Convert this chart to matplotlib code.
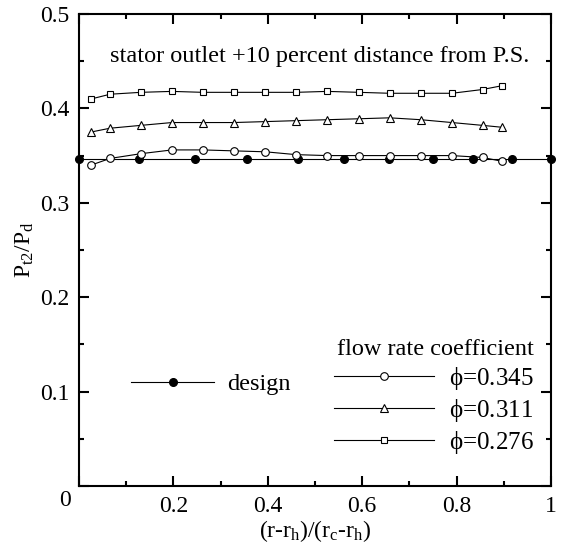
import matplotlib
matplotlib.use("Agg")
import matplotlib.pyplot as plt
from matplotlib.lines import Line2D
from matplotlib.ticker import MultipleLocator

plt.rcParams['font.family'] = ['Liberation Serif', 'DejaVu Serif']
plt.rcParams['mathtext.fontset'] = 'custom'
plt.rcParams['mathtext.rm'] = 'Liberation Serif'
plt.rcParams['mathtext.it'] = 'Liberation Serif'

# radial position (r-rh)/(rc-rh)
x_meas = [0.026, 0.066, 0.131, 0.197, 0.262, 0.328, 0.395, 0.460,
          0.526, 0.593, 0.658, 0.724, 0.790, 0.855, 0.896]
phi_345 = [0.340, 0.347, 0.352, 0.356, 0.356, 0.355, 0.354, 0.351,
           0.350, 0.350, 0.350, 0.350, 0.350, 0.348, 0.344]
phi_311 = [0.375, 0.379, 0.382, 0.385, 0.385, 0.385, 0.386, 0.387,
           0.388, 0.389, 0.390, 0.388, 0.385, 0.382, 0.380]
phi_276 = [0.410, 0.415, 0.417, 0.418, 0.417, 0.417, 0.417, 0.417,
           0.418, 0.417, 0.416, 0.416, 0.416, 0.420, 0.424]

x_design = [0.0, 0.127, 0.246, 0.357, 0.463, 0.561, 0.657, 0.749, 0.835, 0.918, 1.0]
design = [0.346] * len(x_design)

labels = [r"$\phi$=0.345", r"$\phi$=0.311", r"$\phi$=0.276"]

fig = plt.figure(figsize=(5.63, 5.46), dpi=100)
ax = fig.add_axes([0.1403, 0.1099, 0.8384, 0.8645])

lw = 0.8
ax.plot(x_design, design, color='black', lw=lw, marker='o', ms=5.5,
        mfc='black', mec='black', clip_on=False, zorder=3)
ax.plot(x_meas, phi_345, color='black', lw=lw, marker='o', ms=5.5,
        mfc='white', mec='black', mew=0.8, zorder=4)
ax.plot(x_meas, phi_311, color='black', lw=lw, marker='^', ms=5.5,
        mfc='white', mec='black', mew=0.8, zorder=4)
ax.plot(x_meas, phi_276, color='black', lw=lw, marker='s', ms=4.5,
        mfc='white', mec='black', mew=0.8, zorder=4)

ax.set_xlim(0, 1)
ax.set_ylim(0, 0.5)
ax.xaxis.set_major_locator(MultipleLocator(0.2))
ax.xaxis.set_minor_locator(MultipleLocator(0.1))
ax.yaxis.set_major_locator(MultipleLocator(0.1))
ax.yaxis.set_minor_locator(MultipleLocator(0.05))
# the corner "0" is drawn once, below-left of the origin
ax.xaxis.set_major_formatter(plt.FuncFormatter(lambda v, p: "" if v == 0 else format(v, 'g')))
ax.yaxis.set_major_formatter(plt.FuncFormatter(lambda v, p: "" if v == 0 else format(v, 'g')))
ax.tick_params(which='both', direction='in', top=True, right=True,
               labelsize=17, width=1.5)
ax.tick_params(which='major', length=7, pad=7)
ax.tick_params(which='minor', length=3.5)
for s in ax.spines.values():
    s.set_linewidth(1.5)
ax.text(-0.03, -0.03, "0", transform=ax.transAxes, ha='center', va='center', fontsize=17)

ax.set_xlabel(r"(r-r$_\mathrm{h}$)/(r$_\mathrm{c}$-r$_\mathrm{h}$)", fontsize=17, labelpad=1)
ax.set_ylabel(r"P$_\mathrm{t2}$/P$_\mathrm{d}$", fontsize=17, labelpad=3)

ax.text(0.51, 0.909, "stator outlet +10 percent distance from P.S.",
        transform=ax.transAxes, ha='center', va='center', fontsize=17.5)

h_phi = [Line2D([], [], color='black', lw=lw, marker=m, ms=ms, mfc='white',
                mec='black', mew=0.8)
         for m, ms in [('o', 5.5), ('^', 5.5), ('s', 4.5)]]
leg1 = ax.legend(h_phi, labels, title="flow rate coefficient", loc='lower right',
                 bbox_to_anchor=(0.985, 0.043), frameon=False, fontsize=18,
                 title_fontsize=17.5, handlelength=4.0, handletextpad=0.6,
                 labelspacing=0.2, borderaxespad=0)
leg1._legend_box.align = 'right'
ax.add_artist(leg1)

h_des = [Line2D([], [], color='black', lw=lw, marker='o', ms=5.5,
                mfc='black', mec='black')]
ax.legend(h_des, ["design"], loc='center left', bbox_to_anchor=(0.09, 0.216),
          frameon=False, fontsize=17.5, handlelength=3.4, handletextpad=0.55,
          borderaxespad=0)

fig.savefig("out.png", dpi=100)
